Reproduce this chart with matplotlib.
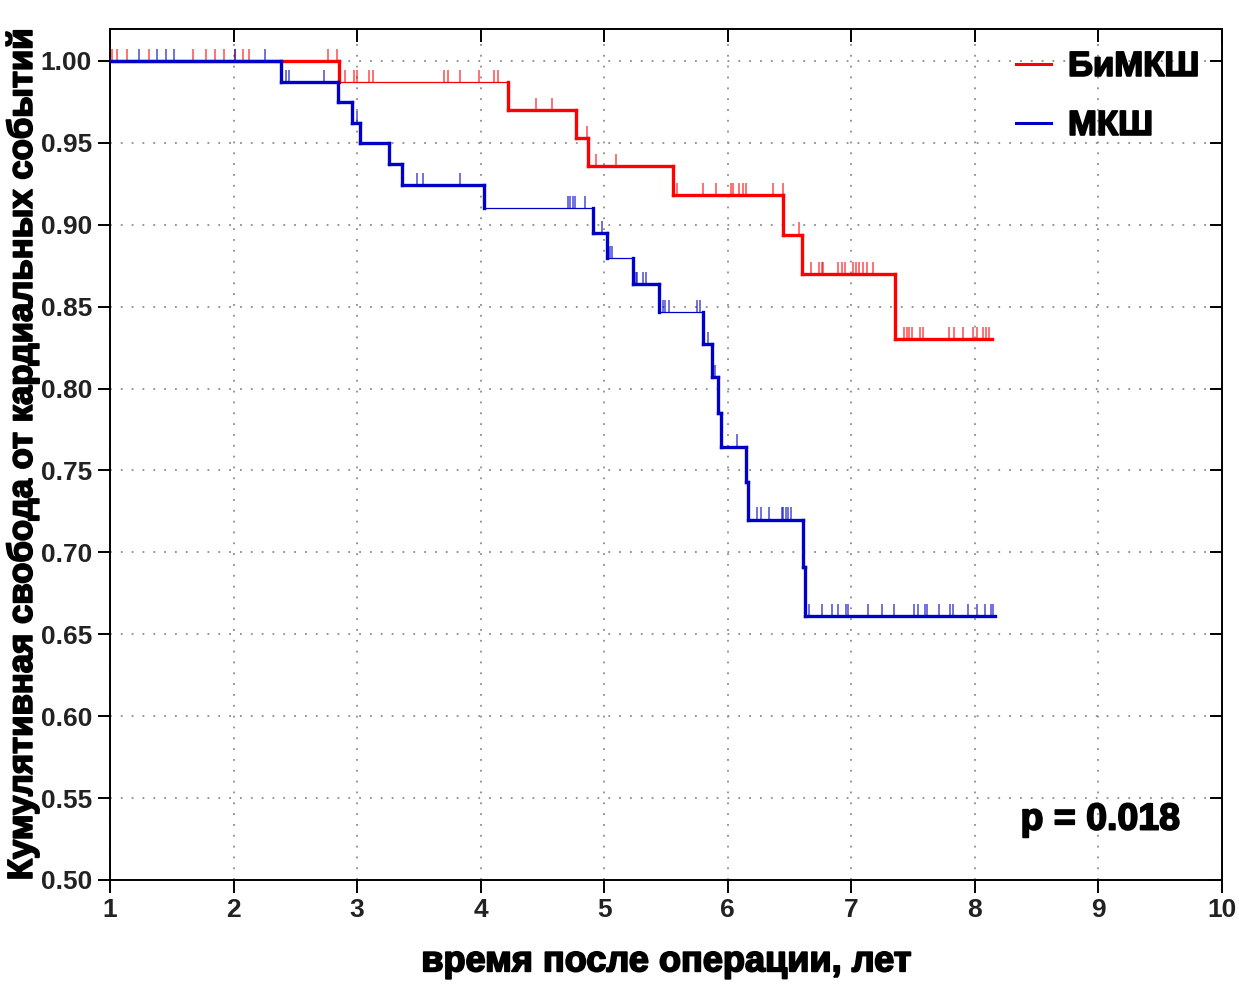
import matplotlib
matplotlib.use("Agg")
import matplotlib.pyplot as plt
import matplotlib.patheffects as pe
from matplotlib.lines import Line2D

plt.rcParams["font.family"] = ["Liberation Sans", "DejaVu Sans"]

# --- Kaplan-Meier data ---
# step times (years) and survival level after each step; first level = 1.0
red_times = [1.0, 2.855, 4.22, 4.77, 4.866, 5.554, 6.45, 6.603, 7.353]
red_levels = [1.0, 0.987, 0.970, 0.953, 0.936, 0.918, 0.894, 0.870, 0.830]
red_end = 8.136
red_censored = [1.014, 1.057, 1.135, 1.316, 1.669, 1.777, 1.85, 1.923, 2.012, 2.074, 2.125,
                2.767, 2.838,
                2.902, 2.975, 2.996, 3.098, 3.125, 3.703, 3.738, 3.833, 3.989, 4.108, 4.143,
                4.448, 4.575, 4.858, 4.931, 5.093,
                5.586, 5.802, 5.904, 6.023, 6.039, 6.093, 6.12, 6.147, 6.363, 6.449, 6.579,
                6.673, 6.74, 6.76, 6.773, 6.894, 6.921, 6.948, 7.016, 7.038, 7.064, 7.097,
                7.124, 7.173,
                7.426, 7.448, 7.469, 7.488, 7.555, 7.582, 7.793, 7.831, 7.906, 7.987, 8.014,
                8.063, 8.09, 8.117]

blue_times = [1.0, 2.381, 2.848, 2.956, 3.023, 3.255, 3.36, 4.027, 4.906, 5.02, 5.235,
              5.446, 5.802, 5.875, 5.918, 5.942, 6.145, 6.16, 6.606, 6.625]
blue_levels = [1.0, 0.987, 0.975, 0.962, 0.950, 0.937, 0.924, 0.910, 0.895, 0.8795, 0.8637,
               0.8466, 0.827, 0.807, 0.785, 0.7645, 0.743, 0.720, 0.691, 0.661]
blue_end = 8.162
blue_censored = [1.237, 1.383, 1.451, 1.521, 2.012, 2.255,
                 2.424, 2.451, 2.732, 2.996, 3.487, 3.536, 3.833,
                 4.709, 4.723, 4.745, 4.763, 4.844, 4.979, 5.047, 5.06,
                 5.257, 5.268, 5.316, 5.336, 5.451, 5.473, 5.492, 5.527, 5.748, 5.775,
                 5.837, 5.896, 5.942, 6.072,
                 6.239, 6.266, 6.336, 6.436, 6.449, 6.471, 6.489, 6.511,
                 6.659, 6.759, 6.84, 6.894, 6.956, 6.975, 7.137, 7.251, 7.345, 7.51, 7.537,
                 7.596, 7.615, 7.712, 7.798, 7.825, 7.946, 8.014, 8.081, 8.128, 8.149]

groups = ["БиМКШ", "МКШ"]
p_text = "p = 0.018"
x_ticks = list(range(1, 11))
y_ticks = [0.50, 0.55, 0.60, 0.65, 0.70, 0.75, 0.80, 0.85, 0.90, 0.95, 1.00]

RED, BLUE = "#FF0000", "#0000C8"
THICK, THIN = 2.4, 0.9
# horizontal segments that the original draws thin
red_thin = {1}
blue_thin = {7, 9, 11}


def level_at(times, levels, t):
    lv = levels[0]
    for ti, li in zip(times, levels):
        if ti <= t:
            lv = li
    return lv


def draw_km(ax, times, levels, end, censored, color, thin):
    ends = times[1:] + [end]
    for i, (t0, t1, lv) in enumerate(zip(times, ends, levels)):
        ax.hlines(lv, t0, t1, color=color, lw=THIN if i in thin else THICK,
                  capstyle="projecting", zorder=3)
    for i in range(1, len(times)):
        ax.vlines(times[i], levels[i], levels[i - 1], color=color, lw=THICK,
                  capstyle="projecting", zorder=3)
    for c in censored:
        lv = level_at(times, levels, c)
        ax.vlines(c, lv, lv + 0.0075, color=color, lw=1.3, alpha=0.6, zorder=2)


fig = plt.figure(figsize=(12.39, 9.84), dpi=100)
ax = fig.add_axes([0.0888, 0.1057, 0.8975, 0.8648])

draw_km(ax, red_times, red_levels, red_end, red_censored, RED, red_thin)
draw_km(ax, blue_times, blue_levels, blue_end, blue_censored, BLUE, blue_thin)

ax.set_xlim(1, 10)
ax.set_ylim(0.50, 1.0195)
ax.set_xticks(x_ticks)
ax.set_yticks(y_ticks)
ax.set_yticklabels([f"{v:.2f}" for v in y_ticks])
ax.grid(True, color="#8C8C8C", linestyle=(0, (1, 5)), lw=1.3)
ax.set_axisbelow(True)

for s in ax.spines.values():
    s.set_linewidth(1.4)
    s.set_color("black")
ax.tick_params(axis="both", which="major", length=9, width=1.4, color="black",
               labelsize=19, labelcolor="#222222", pad=4)
ax.tick_params(top=True, right=True, labeltop=False, labelright=False)
for t in ax.xaxis.get_major_ticks():
    t.tick2line.set_marker(3)  # inward on top
for t in ax.yaxis.get_major_ticks():
    t.tick2line.set_marker(0)  # inward on right
for lbl in ax.get_xticklabels() + ax.get_yticklabels():
    lbl.set_fontweight("bold")

heavy = [pe.withStroke(linewidth=1.3, foreground="black")]
ax.set_xlabel("время после операции, лет", fontsize=26, fontweight="bold",
              labelpad=16, path_effects=heavy)
ax.set_ylabel("Кумулятивная свобода от кардиальных событий", fontsize=25,
              fontweight="bold", path_effects=heavy)
ax.yaxis.set_label_coords(-0.064, 0.5)

handles = [Line2D([], [], color=RED, lw=2.2), Line2D([], [], color=BLUE, lw=2.2)]
leg = ax.legend(handles, groups, loc="upper right", frameon=False,
                prop={"size": 25, "weight": "bold"}, handlelength=1.0,
                handletextpad=0.5, labelspacing=0.75, borderaxespad=0.2,
                bbox_to_anchor=(0.9985, 1.0))
for txt in leg.get_texts():
    txt.set_path_effects(heavy)

ax.text(0.962, 0.071, p_text, transform=ax.transAxes, ha="right", va="center",
        fontsize=27, fontweight="bold", path_effects=heavy)

fig.savefig("out.png", dpi=100, facecolor="white")
